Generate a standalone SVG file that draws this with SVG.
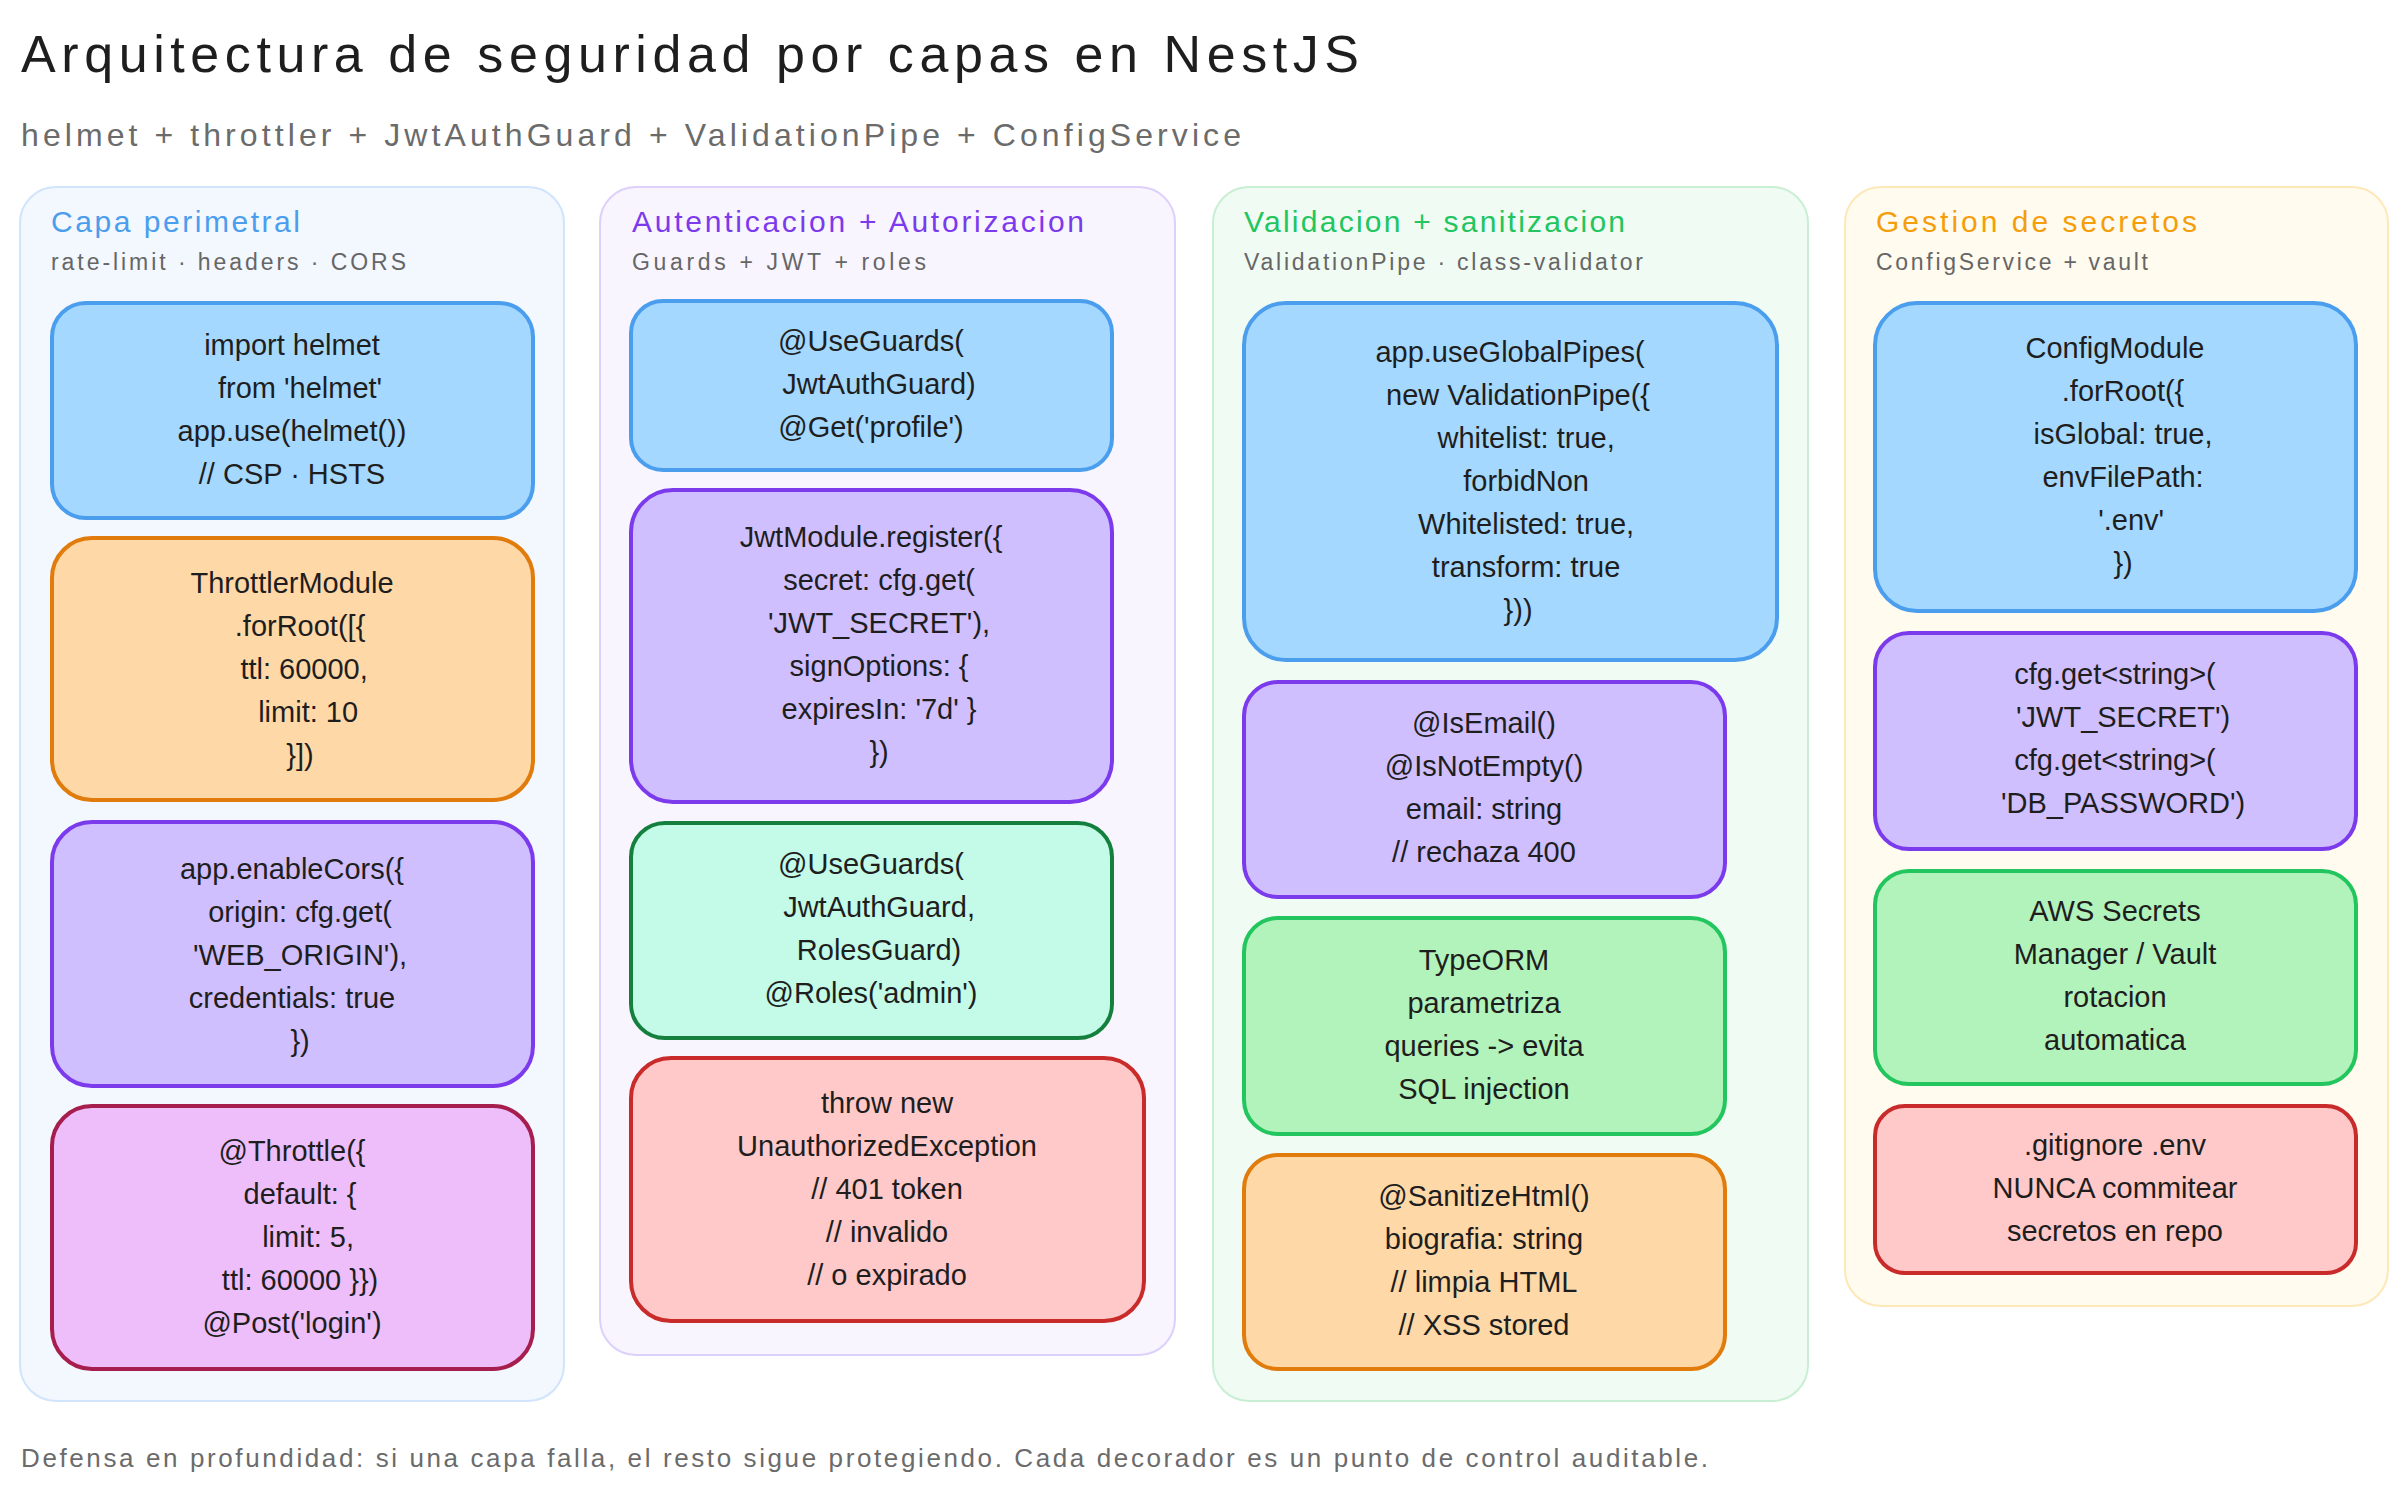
<svg xmlns="http://www.w3.org/2000/svg" width="2408" height="1499" viewBox="0 0 2408 1499">
<style>
text{font-family:"Liberation Sans",Arial,sans-serif;white-space:pre}
.t{font-size:29px;fill:#1e1e1e;text-anchor:middle}
.col{stroke-width:2}
.n{stroke-width:4}
.h{font-size:30px}
.s{font-size:23px;fill:#666}
</style>
<rect width="2408" height="1499" fill="#fff"/>
<text x="21" y="72" font-size="52" fill="#1e1e1e" textLength="1338" lengthAdjust="spacing">Arquitectura de seguridad por capas en NestJS</text>
<text x="21" y="146" font-size="32" fill="#6b6b6b" textLength="1220" lengthAdjust="spacing">helmet + throttler + JwtAuthGuard + ValidationPipe + ConfigService</text>

<g id="col1"><rect class="col" x="20" y="187" width="544" height="1214" rx="36" fill="#f3f7fe" stroke="#d0e4fb"/><text class="h" x="51" y="232" fill="#4a9eed" textLength="249" lengthAdjust="spacing">Capa perimetral</text><text class="s" x="51" y="270" textLength="355" lengthAdjust="spacing">rate-limit · headers · CORS</text></g>
<g id="col2"><rect class="col" x="600" y="187" width="575" height="1168" rx="36" fill="#f8f5ff" stroke="#ddd0fb"/><text class="h" x="632" y="232" fill="#7c3aed" textLength="452" lengthAdjust="spacing">Autenticacion + Autorizacion</text><text class="s" x="632" y="270" textLength="294" lengthAdjust="spacing">Guards + JWT + roles</text></g>
<g id="col3"><rect class="col" x="1213" y="187" width="595" height="1214" rx="36" fill="#f0fbf3" stroke="#c8efd4"/><text class="h" x="1244" y="232" fill="#22c55e" textLength="381" lengthAdjust="spacing">Validacion + sanitizacion</text><text class="s" x="1244" y="270" textLength="399" lengthAdjust="spacing">ValidationPipe · class-validator</text></g>
<g id="col4"><rect class="col" x="1845" y="187" width="543" height="1119" rx="36" fill="#fffbef" stroke="#fde8b8"/><text class="h" x="1876" y="232" fill="#f59e0b" textLength="321" lengthAdjust="spacing">Gestion de secretos</text><text class="s" x="1876" y="270" textLength="272" lengthAdjust="spacing">ConfigService + vault</text></g>

<g id="helmet"><rect class="n" x="52" y="303" width="481" height="215" rx="34" fill="#a5d8ff" stroke="#4a9eed"/>
<text class="t" x="292" y="355">import helmet</text><text class="t" x="292" y="398">  from 'helmet'</text><text class="t" x="292" y="441">app.use(helmet())</text><text class="t" x="292" y="484">// CSP · HSTS</text></g>
<g id="throttler"><rect class="n" x="52" y="538" width="481" height="262" rx="40" fill="#ffd8a8" stroke="#e07b0c"/>
<text class="t" x="292" y="593">ThrottlerModule</text><text class="t" x="292" y="636">  .forRoot([{</text><text class="t" x="292" y="679">   ttl: 60000,</text><text class="t" x="292" y="722">    limit: 10</text><text class="t" x="292" y="765">  }])</text></g>
<g id="cors"><rect class="n" x="52" y="822" width="481" height="264" rx="40" fill="#d0bfff" stroke="#7c3aed"/>
<text class="t" x="292" y="879">app.enableCors({</text><text class="t" x="292" y="922">  origin: cfg.get(</text><text class="t" x="292" y="965">  'WEB_ORIGIN'),</text><text class="t" x="292" y="1008">credentials: true</text><text class="t" x="292" y="1051">  })</text></g>
<g id="throttle"><rect class="n" x="52" y="1106" width="481" height="263" rx="40" fill="#eebefa" stroke="#a61e4d"/>
<text class="t" x="292" y="1161">@Throttle({</text><text class="t" x="292" y="1204">  default: {</text><text class="t" x="292" y="1247">    limit: 5,</text><text class="t" x="292" y="1290">  ttl: 60000 }})</text><text class="t" x="292" y="1333">@Post('login')</text></g>

<g id="useguards"><rect class="n" x="631" y="301" width="481" height="169" rx="32" fill="#a5d8ff" stroke="#4a9eed"/>
<text class="t" x="871" y="351">@UseGuards(</text><text class="t" x="871" y="394">  JwtAuthGuard)</text><text class="t" x="871" y="437">@Get('profile')</text></g>
<g id="jwtmodule"><rect class="n" x="631" y="490" width="481" height="312" rx="42" fill="#d0bfff" stroke="#7c3aed"/>
<text class="t" x="871" y="547">JwtModule.register({</text><text class="t" x="871" y="590">  secret: cfg.get(</text><text class="t" x="871" y="633">  'JWT_SECRET'),</text><text class="t" x="871" y="676">  signOptions: {</text><text class="t" x="871" y="719">  expiresIn: '7d' }</text><text class="t" x="871" y="762">  })</text></g>
<g id="roles"><rect class="n" x="631" y="823" width="481" height="215" rx="34" fill="#c3fae8" stroke="#15803d"/>
<text class="t" x="871" y="874">@UseGuards(</text><text class="t" x="871" y="917">  JwtAuthGuard,</text><text class="t" x="871" y="960">  RolesGuard)</text><text class="t" x="871" y="1003">@Roles('admin')</text></g>
<g id="unauth"><rect class="n" x="631" y="1058" width="513" height="263" rx="40" fill="#ffc9c9" stroke="#c92a2a"/>
<text class="t" x="887" y="1113">throw new</text><text class="t" x="887" y="1156">UnauthorizedException</text><text class="t" x="887" y="1199">// 401 token</text><text class="t" x="887" y="1242">// invalido</text><text class="t" x="887" y="1285">// o expirado</text></g>

<g id="pipes"><rect class="n" x="1244" y="303" width="533" height="357" rx="42" fill="#a5d8ff" stroke="#4a9eed"/>
<text class="t" x="1510" y="362">app.useGlobalPipes(</text><text class="t" x="1510" y="405">  new ValidationPipe({</text><text class="t" x="1510" y="448">    whitelist: true,</text><text class="t" x="1510" y="491">    forbidNon</text><text class="t" x="1510" y="534">    Whitelisted: true,</text><text class="t" x="1510" y="577">    transform: true</text><text class="t" x="1510" y="620">  }))</text></g>
<g id="isemail"><rect class="n" x="1244" y="682" width="481" height="215" rx="34" fill="#d0bfff" stroke="#7c3aed"/>
<text class="t" x="1484" y="733">@IsEmail()</text><text class="t" x="1484" y="776">@IsNotEmpty()</text><text class="t" x="1484" y="819">email: string</text><text class="t" x="1484" y="862">// rechaza 400</text></g>
<g id="typeorm"><rect class="n" x="1244" y="918" width="481" height="216" rx="34" fill="#b2f2bb" stroke="#22c55e"/>
<text class="t" x="1484" y="970">TypeORM</text><text class="t" x="1484" y="1013">parametriza</text><text class="t" x="1484" y="1056">queries -&gt; evita</text><text class="t" x="1484" y="1099">SQL injection</text></g>
<g id="sanitize"><rect class="n" x="1244" y="1155" width="481" height="214" rx="34" fill="#ffd8a8" stroke="#e07b0c"/>
<text class="t" x="1484" y="1206">@SanitizeHtml()</text><text class="t" x="1484" y="1249">biografia: string</text><text class="t" x="1484" y="1292">// limpia HTML</text><text class="t" x="1484" y="1335">// XSS stored</text></g>

<g id="configmodule"><rect class="n" x="1875" y="303" width="481" height="308" rx="42" fill="#a5d8ff" stroke="#4a9eed"/>
<text class="t" x="2115" y="358">ConfigModule</text><text class="t" x="2115" y="401">  .forRoot({</text><text class="t" x="2115" y="444">  isGlobal: true,</text><text class="t" x="2115" y="487">  envFilePath:</text><text class="t" x="2115" y="530">    '.env'</text><text class="t" x="2115" y="573">  })</text></g>
<g id="cfgget"><rect class="n" x="1875" y="633" width="481" height="216" rx="34" fill="#d0bfff" stroke="#7c3aed"/>
<text class="t" x="2115" y="684">cfg.get&lt;string&gt;(</text><text class="t" x="2115" y="727">  'JWT_SECRET')</text><text class="t" x="2115" y="770">cfg.get&lt;string&gt;(</text><text class="t" x="2115" y="813">  'DB_PASSWORD')</text></g>
<g id="aws"><rect class="n" x="1875" y="871" width="481" height="213" rx="34" fill="#b2f2bb" stroke="#22c55e"/>
<text class="t" x="2115" y="921">AWS Secrets</text><text class="t" x="2115" y="964">Manager / Vault</text><text class="t" x="2115" y="1007">rotacion</text><text class="t" x="2115" y="1050">automatica</text></g>
<g id="gitignore"><rect class="n" x="1875" y="1106" width="481" height="167" rx="30" fill="#ffc9c9" stroke="#c92a2a"/>
<text class="t" x="2115" y="1155">.gitignore .env</text><text class="t" x="2115" y="1198">NUNCA commitear</text><text class="t" x="2115" y="1241">secretos en repo</text></g>

<g id="connectors"></g>
<text x="21" y="1467" font-size="26" fill="#6b6b6b" textLength="1687" lengthAdjust="spacing">Defensa en profundidad: si una capa falla, el resto sigue protegiendo. Cada decorador es un punto de control auditable.</text>
</svg>
